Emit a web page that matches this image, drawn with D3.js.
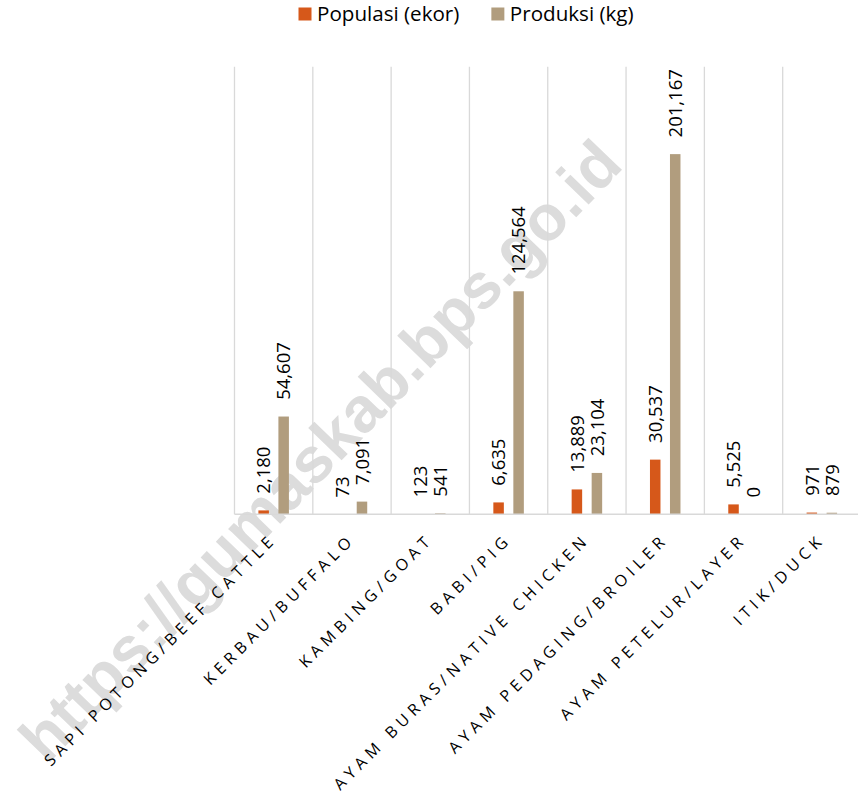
<!DOCTYPE html>
<html>
<head>
<meta charset="utf-8">
<script src="https://cdn.jsdelivr.net/npm/d3@7"></script>
<style>
  html, body { margin: 0; padding: 0; background: #ffffff; }
  svg { display: block; }
</style>
</head>
<body>
<svg id="chart" width="858" height="793"></svg>
<script>
const categories = [
  "SAPI POTONG/BEEF CATTLE",
  "KERBAU/BUFFALO",
  "KAMBING/GOAT",
  "BABI/PIG",
  "AYAM BURAS/NATIVE CHICKEN",
  "AYAM PEDAGING/BROILER",
  "AYAM PETELUR/LAYER",
  "ITIK/DUCK"
];
const populasi = [2180, 73, 123, 6635, 13889, 30537, 5525, 971];
const produksi = [54607, 7091, 541, 124564, 23104, 201167, 0, 879];
const seriesNames = ["Populasi (ekor)", "Produksi (kg)"];
const seriesColors = ["#D6581A", "#B19D7E"];
const yMax = 250000;
const watermark = "https://gumaskab.bps.go.id";

const W = 858, H = 793;
const plot = { left: 234.5, right: 861, top: 66.7, bottom: 514.3 };

const svg = d3.select("#chart");

// watermark (behind everything)
svg.append("text")
  .attr("transform", "translate(336,466) rotate(-46)")
  .attr("text-anchor", "middle")
  .attr("font-family", "'Liberation Sans', Arial, sans-serif")
  .attr("font-weight", "bold")
  .attr("font-size", 64)
  .attr("fill", "#dcdcdc")
  .text(watermark);

const x0 = d3.scaleBand().domain(categories).range([plot.left, plot.right]).paddingInner(0).paddingOuter(0);
const x1 = d3.scaleBand().domain(seriesNames).range([0, x0.bandwidth()]).paddingInner(0.475).paddingOuter(1.195);
const y = d3.scaleLinear().domain([0, yMax]).range([plot.bottom, plot.top]);

// vertical category gridlines
const gridX = categories.map(c => x0(c)).concat([plot.right]);
svg.append("g").selectAll("line").data(gridX).join("line")
  .attr("x1", d => d).attr("x2", d => d)
  .attr("y1", y(yMax)).attr("y2", y(0))
  .attr("stroke", "#d9d9d9").attr("stroke-width", 1.3);

const rows = categories.map((c, i) => ({ cat: c, values: [populasi[i], produksi[i]] }));

const groups = svg.append("g").selectAll("g").data(rows).join("g")
  .attr("transform", d => `translate(${x0(d.cat)},0)`);

groups.selectAll("rect").data(d => d.values.map((v, k) => ({ v, k }))).join("rect")
  .attr("x", d => x1(seriesNames[d.k]))
  .attr("width", x1.bandwidth())
  .attr("y", d => y(d.v))
  .attr("height", d => y(0) - y(d.v))
  .attr("fill", d => seriesColors[d.k]);

const fmt = d3.format(",");
groups.selectAll("text").data(d => d.values.map((v, k) => ({ v, k }))).join("text")
  .attr("transform", d => `translate(${x1(seriesNames[d.k]) + x1.bandwidth() / 2},${y(d.v) - 16.7}) rotate(-90)`)
  .attr("dy", "0.36em")
  .attr("text-anchor", "start")
  .attr("font-family", "'Open Sans', sans-serif")
  .attr("font-size", 18.5)
  .attr("fill", "#000")
  .text(d => fmt(d.v));

// category axis line
svg.append("line")
  .attr("x1", plot.left).attr("x2", plot.right)
  .attr("y1", y(0)).attr("y2", y(0))
  .attr("stroke", "#d9d9d9").attr("stroke-width", 1.5);

// category labels
const xAxis = d3.axisBottom(x0).tickSize(0).tickPadding(0);
const ax = svg.append("g").attr("transform", `translate(0,${y(0)})`).call(xAxis);
ax.select(".domain").remove();
ax.selectAll("text")
  .attr("font-family", "'Open Sans', sans-serif")
  .attr("font-size", 16)
  .attr("letter-spacing", "5px")
  .attr("fill", "#000")
  .attr("text-anchor", "end")
  .attr("y", 0)
  .attr("dy", 0)
  .attr("transform", "translate(4,26) rotate(-45)");

// legend
const legend = svg.append("g");
let lx = 298.5;
seriesNames.forEach((name, k) => {
  const g = legend.append("g").attr("transform", `translate(${lx},0)`);
  g.append("rect").attr("x", 0).attr("y", 7.5).attr("width", 13).attr("height", 13).attr("fill", seriesColors[k]);
  const t = g.append("text").attr("x", 18.5).attr("y", 21)
    .attr("font-family", "'Open Sans', sans-serif")
    .attr("font-size", 20.6)
    .attr("fill", "#000")
    .text(name);
  lx += 18.5 + t.node().getComputedTextLength() + 32;
});
</script>
</body>
</html>
